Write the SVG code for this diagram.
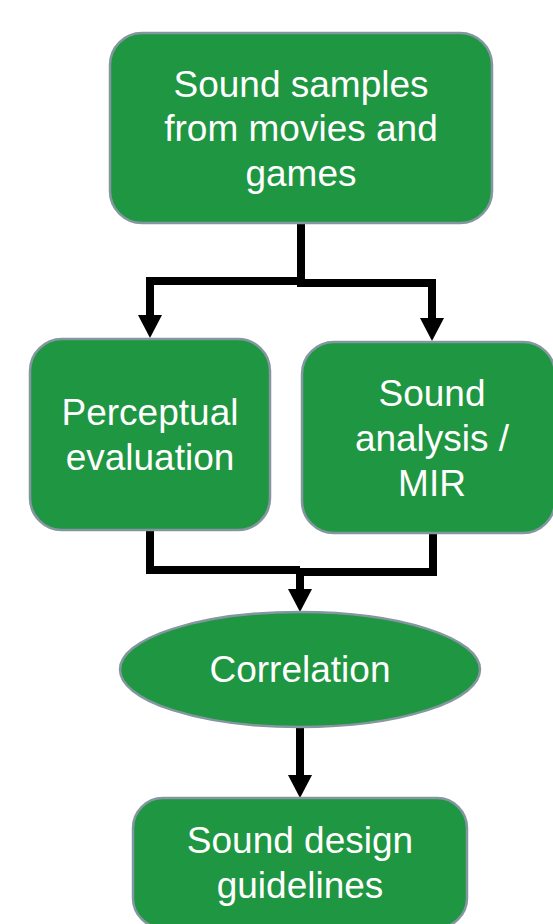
<svg xmlns="http://www.w3.org/2000/svg" width="553" height="924" viewBox="0 0 553 924">
<style>
.node{fill:#1f9641;stroke:#8497a0;stroke-width:2.5}
.lbl{font-family:"Liberation Sans",Arial,sans-serif;font-size:37px;fill:#ffffff;text-anchor:middle}
.conn{fill:none;stroke:#000000;stroke-width:8;stroke-linejoin:miter}
</style>
<defs>
<marker id="arr" markerUnits="userSpaceOnUse" markerWidth="24" markerHeight="24" refX="0" refY="12" orient="auto">
<path d="M0,0 L23,12 L0,24 z" fill="#000000"/>
</marker>
</defs>
<rect width="553" height="924" fill="#ffffff"/>
<g id="connectors">
<path class="conn" d="M301,223 V281 H150 V315" marker-end="url(#arr)"/>
<path class="conn" d="M301,281 V283 H432 V318" marker-end="url(#arr)"/>
<path class="conn" d="M150,530 V570 H300"/>
<path class="conn" d="M433,533 V572 H300"/>
<path class="conn" d="M300,568 V589" marker-end="url(#arr)"/>
<path class="conn" d="M300,727 V775" marker-end="url(#arr)"/>
</g>
<g id="samples">
<rect class="node" x="110" y="33" width="382" height="190" rx="32"/>
<text class="lbl" x="301" y="97">Sound samples</text>
<text class="lbl" x="301" y="141">from movies and</text>
<text class="lbl" x="301" y="186">games</text>
</g>
<g id="perceptual">
<rect class="node" x="30" y="339" width="240" height="191" rx="32"/>
<text class="lbl" x="150" y="425">Perceptual</text>
<text class="lbl" x="150" y="470">evaluation</text>
</g>
<g id="analysis">
<rect class="node" x="302" y="342" width="253" height="191" rx="32"/>
<text class="lbl" x="432" y="406">Sound</text>
<text class="lbl" x="432" y="451">analysis /</text>
<text class="lbl" x="432" y="496">MIR</text>
</g>
<g id="correlation">
<ellipse class="node" cx="300" cy="669.5" rx="180" ry="57.5"/>
<text class="lbl" x="300" y="682">Correlation</text>
</g>
<g id="guidelines">
<rect class="node" x="133" y="798" width="334" height="130" rx="30"/>
<text class="lbl" x="300" y="853">Sound design</text>
<text class="lbl" x="300" y="898">guidelines</text>
</g>
</svg>
